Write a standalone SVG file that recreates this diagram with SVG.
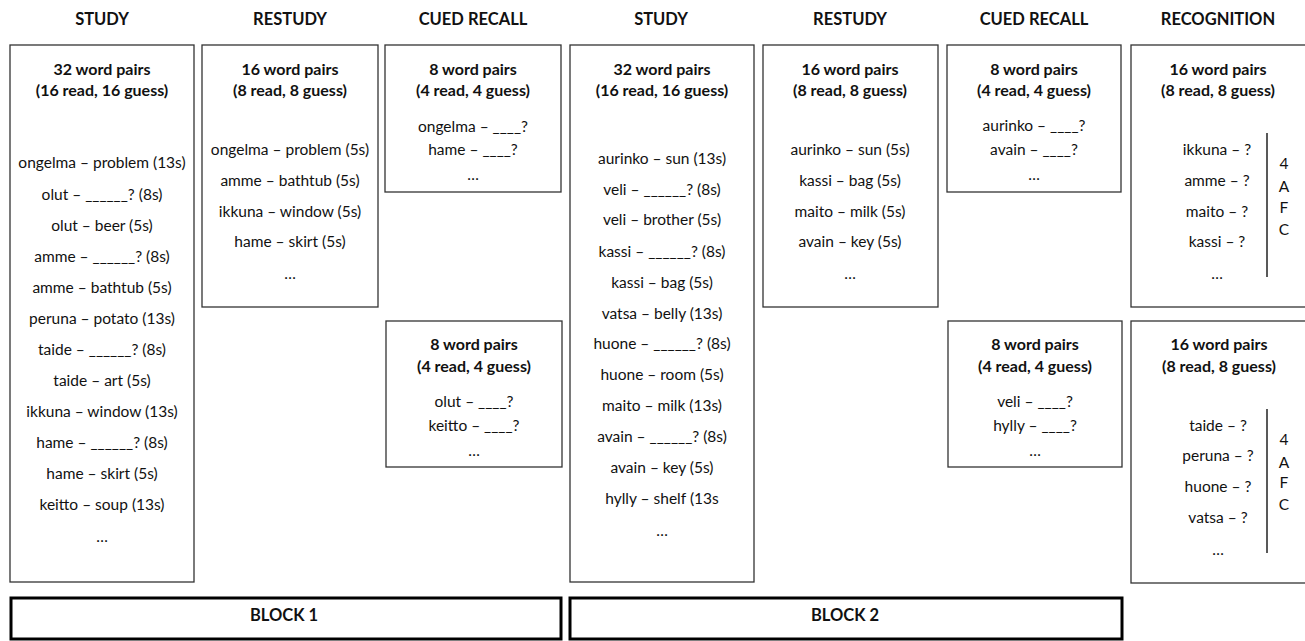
<svg xmlns="http://www.w3.org/2000/svg" width="1305" height="641" viewBox="0 0 1305 641">
<style>
text{font-family:Lato,"Liberation Sans",sans-serif;font-size:15.5px;fill:#111;text-anchor:middle}
.h{font-weight:bold;font-size:16.5px}
.b{font-weight:bold;font-size:16px}
.box{fill:#fff;stroke:#333;stroke-width:1.3}
.blk{fill:#fff;stroke:#000;stroke-width:3}
.ln{stroke:#222;stroke-width:1.5}
</style>
<rect width="1305" height="641" fill="#fff"/>
<g id="headers">
<text class="h" x="102" y="25">STUDY</text>
<text class="h" x="290" y="25">RESTUDY</text>
<text class="h" x="473" y="25">CUED RECALL</text>
<text class="h" x="661" y="25">STUDY</text>
<text class="h" x="850" y="25">RESTUDY</text>
<text class="h" x="1034" y="25">CUED RECALL</text>
<text class="h" x="1218" y="25">RECOGNITION</text>
</g>
<g id="study1">
<rect class="box" x="10" y="45" width="184" height="537"/>
<text class="b" x="102" y="75">32 word pairs</text>
<text class="b" x="102" y="96">(16 read, 16 guess)</text>
<text x="102" y="168">ongelma – problem (13s)</text>
<text x="102" y="200">olut – ______? (8s)</text>
<text x="102" y="231">olut – beer (5s)</text>
<text x="102" y="262">amme – ______? (8s)</text>
<text x="102" y="293">amme – bathtub (5s)</text>
<text x="102" y="324">peruna – potato (13s)</text>
<text x="102" y="355">taide – ______? (8s)</text>
<text x="102" y="386">taide – art (5s)</text>
<text x="102" y="417">ikkuna – window (13s)</text>
<text x="102" y="448">hame – ______? (8s)</text>
<text x="102" y="479">hame – skirt (5s)</text>
<text x="102" y="510">keitto – soup (13s)</text>
<text x="102" y="542">…</text>
</g>
<g id="restudy1">
<rect class="box" x="202" y="45" width="176" height="262"/>
<text class="b" x="290" y="75">16 word pairs</text>
<text class="b" x="290" y="96">(8 read, 8 guess)</text>
<text x="290" y="155">ongelma – problem (5s)</text>
<text x="290" y="186">amme – bathtub (5s)</text>
<text x="290" y="217">ikkuna – window (5s)</text>
<text x="290" y="247">hame – skirt (5s)</text>
<text x="290" y="279">…</text>
</g>
<g id="cued1a">
<rect class="box" x="385" y="45" width="176" height="147"/>
<text class="b" x="473" y="75">8 word pairs</text>
<text class="b" x="473" y="96">(4 read, 4 guess)</text>
<text x="473" y="132">ongelma – ____?</text>
<text x="473" y="155">hame – ____?</text>
<text x="473" y="180">…</text>
</g>
<g id="cued1b">
<rect class="box" x="386" y="321" width="176" height="146"/>
<text class="b" x="474" y="350">8 word pairs</text>
<text class="b" x="474" y="372">(4 read, 4 guess)</text>
<text x="474" y="407">olut – ____?</text>
<text x="474" y="431">keitto – ____?</text>
<text x="474" y="456">…</text>
</g>
<g id="study2">
<rect class="box" x="570" y="45" width="184" height="537"/>
<text class="b" x="662" y="75">32 word pairs</text>
<text class="b" x="662" y="96">(16 read, 16 guess)</text>
<text x="662" y="164">aurinko – sun (13s)</text>
<text x="662" y="195">veli – ______? (8s)</text>
<text x="662" y="225">veli – brother (5s)</text>
<text x="662" y="257">kassi – ______? (8s)</text>
<text x="662" y="288">kassi – bag (5s)</text>
<text x="662" y="319">vatsa – belly (13s)</text>
<text x="662" y="349">huone – ______? (8s)</text>
<text x="662" y="380">huone – room (5s)</text>
<text x="662" y="411">maito – milk (13s)</text>
<text x="662" y="442">avain – ______? (8s)</text>
<text x="662" y="473">avain – key (5s)</text>
<text x="662" y="504">hylly – shelf (13s</text>
<text x="662" y="536">…</text>
</g>
<g id="restudy2">
<rect class="box" x="763" y="45" width="175" height="262"/>
<text class="b" x="850" y="75">16 word pairs</text>
<text class="b" x="850" y="96">(8 read, 8 guess)</text>
<text x="850" y="155">aurinko – sun (5s)</text>
<text x="850" y="186">kassi – bag (5s)</text>
<text x="850" y="217">maito – milk (5s)</text>
<text x="850" y="247">avain – key (5s)</text>
<text x="850" y="279">…</text>
</g>
<g id="cued2a">
<rect class="box" x="947" y="45" width="174" height="147"/>
<text class="b" x="1034" y="75">8 word pairs</text>
<text class="b" x="1034" y="96">(4 read, 4 guess)</text>
<text x="1034" y="131">aurinko – ____?</text>
<text x="1034" y="155">avain – ____?</text>
<text x="1034" y="180">…</text>
</g>
<g id="cued2b">
<rect class="box" x="948" y="321" width="174" height="146"/>
<text class="b" x="1035" y="350">8 word pairs</text>
<text class="b" x="1035" y="372">(4 read, 4 guess)</text>
<text x="1035" y="407">veli – ____?</text>
<text x="1035" y="431">hylly – ____?</text>
<text x="1035" y="456">…</text>
</g>
<g id="recog1">
<rect class="box" x="1131" y="45" width="180" height="262"/>
<text class="b" x="1218" y="75">16 word pairs</text>
<text class="b" x="1218" y="96">(8 read, 8 guess)</text>
<text x="1217" y="155">ikkuna – ?</text>
<text x="1217" y="186">amme – ?</text>
<text x="1217" y="217">maito – ?</text>
<text x="1217" y="247">kassi – ?</text>
<text x="1217" y="279">…</text>
<line class="ln" x1="1267" y1="133" x2="1267" y2="277"/>
<text x="1284" y="169">4</text>
<text x="1284" y="192">A</text>
<text x="1284" y="213">F</text>
<text x="1284" y="235">C</text>
</g>
<g id="recog2">
<rect class="box" x="1131" y="321" width="180" height="262"/>
<text class="b" x="1219" y="350">16 word pairs</text>
<text class="b" x="1219" y="372">(8 read, 8 guess)</text>
<text x="1218" y="431">taide – ?</text>
<text x="1218" y="461">peruna – ?</text>
<text x="1218" y="492">huone – ?</text>
<text x="1218" y="523">vatsa – ?</text>
<text x="1218" y="555">…</text>
<line class="ln" x1="1267" y1="409" x2="1267" y2="553"/>
<text x="1284" y="445">4</text>
<text x="1284" y="468">A</text>
<text x="1284" y="488">F</text>
<text x="1284" y="510">C</text>
</g>
<g id="block1">
<rect class="blk" x="11" y="598" width="550" height="41"/>
<text class="h" x="284" y="621">BLOCK 1</text>
</g>
<g id="block2">
<rect class="blk" x="570" y="598" width="552" height="41"/>
<text class="h" x="845" y="621">BLOCK 2</text>
</g>
<g id="connectors"/>
</svg>
